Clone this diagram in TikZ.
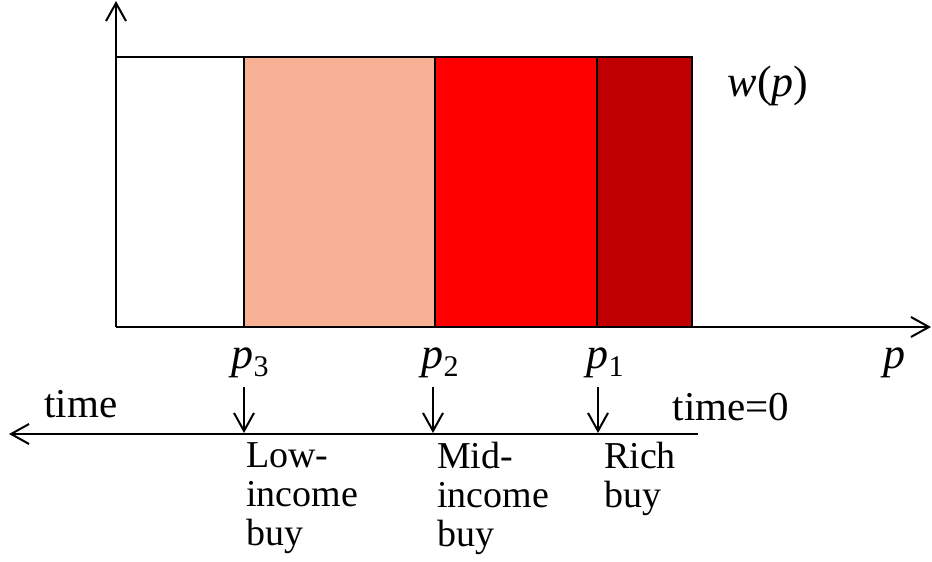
\documentclass[tikz,border=0pt]{standalone}
\usepackage{fontspec}
\setmainfont{Liberation Serif}
\usetikzlibrary{arrows.meta}
\definecolor{salmon}{HTML}{F8B195}
\definecolor{brightred}{HTML}{FF0000}
\definecolor{darkred}{HTML}{C00000}
\tikzset{
  axis/.style={line width=2pt,-{Straight Barb[length=18pt,width=20pt,line width=2pt]}},
  edge/.style={line width=2pt},
  lbl/.style={font=\fontsize{38}{39}\selectfont,inner sep=0pt},
  tlbl/.style={font=\fontsize{41}{44}\selectfont,inner sep=0pt,anchor=base},
  plbl/.style={font=\fontsize{44}{48}\selectfont,inner sep=0pt,anchor=base},
  buy/.style={lbl,align=left,anchor=north west},
}
\newcommand{\plab}[1]{\textit{p}\raisebox{-0.2em}{\fontsize{30}{32}\selectfont #1}}
\begin{document}
\begin{tikzpicture}[x=1pt,y=-1pt]
\useasboundingbox (0,0) rectangle (932,562);
% coordinates
\coordinate (O) at (116,327);
\coordinate (Ytip) at (116,1);
\coordinate (Xtip) at (931,327);
\coordinate (a3) at (244,327);
\coordinate (a2) at (435,327);
\coordinate (a1) at (597,327);
\coordinate (a0) at (692,327);
% fills
\fill[salmon] (244,57) rectangle (435,327);
\fill[brightred] (435,57) rectangle (597,327);
\fill[darkred] (597,57) rectangle (692,327);
% rectangle outline and dividers
\draw[edge] (116,57) -- (692,57) -- (a0);
\draw[edge] (244,57) -- (a3);
\draw[edge] (435,57) -- (a2);
\draw[edge] (597,57) -- (a1);
% axes
\draw[axis] (O) -- (Ytip);
\draw[axis] (O) -- (Xtip);
% labels on the chart
\node[plbl] (w) at (768,96) {\textit{w}(\textit{p})};
\node[plbl] (p3) at (250,368) {\plab{3}};
\node[plbl] (p2) at (440,368) {\plab{2}};
\node[plbl] (p1) at (605,368) {\plab{1}};
\node[plbl] (p) at (894,368) {\textit{p}};
% time line
\coordinate (tR) at (698,434);
\coordinate (tL) at (9,434);
\draw[axis] (tR) -- (tL);
\node[tlbl] (time) at (81,417) {time};
\node[tlbl] (time0) at (731,420) {time=0};
% small arrows
\coordinate (s3) at (244,387);
\coordinate (s2) at (433,387);
\coordinate (s1) at (598,387);
\coordinate (e3) at (244,433);
\coordinate (e2) at (433,433);
\coordinate (e1) at (598,433);
\draw[axis] (s3) -- (e3);
\draw[axis] (s2) -- (e2);
\draw[axis] (s1) -- (e1);
% buyer labels
\node[buy] (low) at (246,442) {Low-\\income\\buy};
\node[buy] (mid) at (437,442) {Mid-\\income\\buy};
\node[buy] (rich) at (604,442) {Rich\\buy};
\end{tikzpicture}
\end{document}
